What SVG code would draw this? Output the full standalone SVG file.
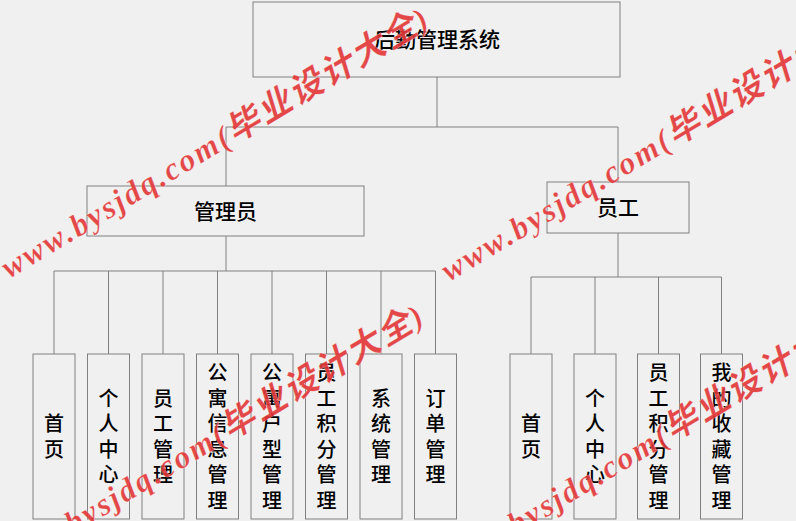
<svg xmlns="http://www.w3.org/2000/svg" width="796" height="521" viewBox="0 0 796 521">
<style>
.bg{fill:#f0f0f0}
.box{fill:#f0f0f0;stroke:#808080;stroke-width:1}
.ln{fill:none;stroke:#808080;stroke-width:1}
.t{font-family:"Noto Sans CJK SC","Noto Sans",sans-serif;font-size:21px;font-weight:500;fill:#000;text-anchor:middle}
.v{font-family:"Noto Sans CJK SC","Noto Sans",sans-serif;font-size:20px;font-weight:500;fill:#000;text-anchor:middle}
.wm{fill:#e23636;fill-opacity:0.92;stroke:#ffffff;stroke-width:0.4;stroke-opacity:0.6}
.wl{font-family:"Liberation Serif",serif;font-weight:bold;font-style:italic;font-size:32px}
.wc{font-family:"Noto Sans CJK SC",sans-serif;font-style:italic;font-weight:bold;font-size:34px}
</style>
<rect class="bg" x="0" y="0" width="796" height="521"/>
<g id="connectors">
<path class="ln" d="M437,77V127M226,127H618M226,127V186M618,127V182"/>
<path class="ln" d="M226,236V271M54,271H435.5M54,271V354M108.5,271V354M163,271V354M217.5,271V354M272,271V354M326.5,271V354M381,271V354M435.5,271V354"/>
<path class="ln" d="M618,233V277M531,277H721.5M531,277V354M595,277V354M658.5,277V354M721.5,277V354"/>
</g>
<g id="root"><rect class="box" x="253" y="2" width="367" height="75"/><text class="t" x="437" y="47">后勤管理系统</text></g>
<g id="admin"><rect class="box" x="87" y="186" width="277" height="50"/><text class="t" x="225.5" y="219">管理员</text></g>
<g id="staff"><rect class="box" x="547" y="182" width="142" height="51"/><text class="t" x="618" y="215">员工</text></g>
<g id="a1"><rect class="box" x="33" y="354" width="42" height="165"/><text class="v" x="54"><tspan x="54" y="431">首</tspan><tspan x="54" y="456.5">页</tspan></text></g>
<g id="a2"><rect class="box" x="87.5" y="354" width="42" height="165"/><text class="v"><tspan x="108.5" y="405.5">个</tspan><tspan x="108.5" y="431">人</tspan><tspan x="108.5" y="456.5">中</tspan><tspan x="108.5" y="482">心</tspan></text></g>
<g id="a3"><rect class="box" x="142" y="354" width="42" height="165"/><text class="v"><tspan x="163" y="405.5">员</tspan><tspan x="163" y="431">工</tspan><tspan x="163" y="456.5">管</tspan><tspan x="163" y="482">理</tspan></text></g>
<g id="a4"><rect class="box" x="196.5" y="354" width="42" height="165"/><text class="v"><tspan x="217.5" y="380">公</tspan><tspan x="217.5" y="405.5">寓</tspan><tspan x="217.5" y="431">信</tspan><tspan x="217.5" y="456.5">息</tspan><tspan x="217.5" y="482">管</tspan><tspan x="217.5" y="507.5">理</tspan></text></g>
<g id="a5"><rect class="box" x="251" y="354" width="42" height="165"/><text class="v"><tspan x="272" y="380">公</tspan><tspan x="272" y="405.5">寓</tspan><tspan x="272" y="431">户</tspan><tspan x="272" y="456.5">型</tspan><tspan x="272" y="482">管</tspan><tspan x="272" y="507.5">理</tspan></text></g>
<g id="a6"><rect class="box" x="305.5" y="354" width="42" height="165"/><text class="v"><tspan x="326.5" y="380">员</tspan><tspan x="326.5" y="405.5">工</tspan><tspan x="326.5" y="431">积</tspan><tspan x="326.5" y="456.5">分</tspan><tspan x="326.5" y="482">管</tspan><tspan x="326.5" y="507.5">理</tspan></text></g>
<g id="a7"><rect class="box" x="360" y="354" width="42" height="165"/><text class="v"><tspan x="381" y="405.5">系</tspan><tspan x="381" y="431">统</tspan><tspan x="381" y="456.5">管</tspan><tspan x="381" y="482">理</tspan></text></g>
<g id="a8"><rect class="box" x="414.5" y="354" width="42" height="165"/><text class="v"><tspan x="435.5" y="405.5">订</tspan><tspan x="435.5" y="431">单</tspan><tspan x="435.5" y="456.5">管</tspan><tspan x="435.5" y="482">理</tspan></text></g>
<g id="s1"><rect class="box" x="510" y="354" width="42" height="165"/><text class="v"><tspan x="531" y="431">首</tspan><tspan x="531" y="456.5">页</tspan></text></g>
<g id="s2"><rect class="box" x="574" y="354" width="42" height="165"/><text class="v"><tspan x="595" y="405.5">个</tspan><tspan x="595" y="431">人</tspan><tspan x="595" y="456.5">中</tspan><tspan x="595" y="482">心</tspan></text></g>
<g id="s3"><rect class="box" x="637.5" y="354" width="42" height="165"/><text class="v"><tspan x="658.5" y="380">员</tspan><tspan x="658.5" y="405.5">工</tspan><tspan x="658.5" y="431">积</tspan><tspan x="658.5" y="456.5">分</tspan><tspan x="658.5" y="482">管</tspan><tspan x="658.5" y="507.5">理</tspan></text></g>
<g id="s4"><rect class="box" x="700.5" y="354" width="42" height="165"/><text class="v"><tspan x="721.5" y="380">我</tspan><tspan x="721.5" y="405.5">的</tspan><tspan x="721.5" y="431">收</tspan><tspan x="721.5" y="456.5">藏</tspan><tspan x="721.5" y="482">管</tspan><tspan x="721.5" y="507.5">理</tspan></text></g>
<g id="watermarks">
<text class="wm" transform="translate(9,279) rotate(-31)" textLength="492" lengthAdjust="spacing"><tspan class="wl">www.bysjdq.com(</tspan><tspan class="wc">毕业设计大全</tspan><tspan class="wl">)</tspan></text>
<text class="wm" transform="translate(449,282) rotate(-31)" textLength="492" lengthAdjust="spacing"><tspan class="wl">www.bysjdq.com(</tspan><tspan class="wc">毕业设计大全</tspan><tspan class="wl">)</tspan></text>
<text class="wm" transform="translate(4,576) rotate(-31)" textLength="492" lengthAdjust="spacing"><tspan class="wl">www.bysjdq.com(</tspan><tspan class="wc">毕业设计大全</tspan><tspan class="wl">)</tspan></text>
<text class="wm" transform="translate(447,577) rotate(-31)" textLength="492" lengthAdjust="spacing"><tspan class="wl">www.bysjdq.com(</tspan><tspan class="wc">毕业设计大全</tspan><tspan class="wl">)</tspan></text>
</g>
</svg>
